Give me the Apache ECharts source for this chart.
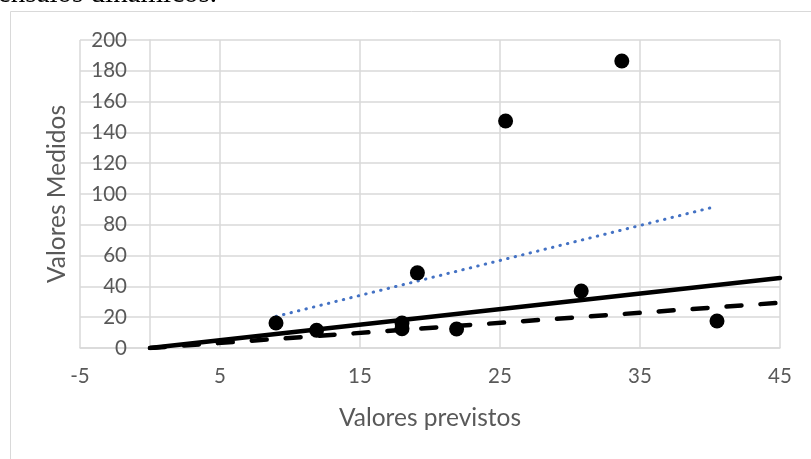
<!DOCTYPE html>
<html>
<head>
<meta charset="utf-8">
<script src="https://cdn.jsdelivr.net/npm/echarts@6/dist/echarts.min.js"></script>
<style>
html,body{margin:0;padding:0;background:#fff;}
#c{width:811px;height:459px;}
</style>
</head>
<body>
<div id="c"></div>
<script>
// Data
var predicted = [9.0, 11.9, 18.0, 18.0, 19.1, 21.9, 25.4, 30.8, 33.7, 40.5];
var measured  = [16.2, 11.5, 16.2, 12.5, 48.8, 12.3, 147.4, 37.0, 186.4, 17.5];
var lineSolidX = [0, 45];
var lineSolidY = [0, 45.4];
var lineDashX = [0, 45];
var lineDashY = [0, 29.4];
var lineDotX = [9.0, 40.3];
var lineDotY = [20.5, 91.6];
var xTicks = {min: -5, max: 45, interval: 10};
var yTicks = {min: 0, max: 200, interval: 20};
var xTitle = 'Valores previstos';
var yTitle = 'Valores Medidos';
var caption = 'ensaios dinâmicos.';

function zip(a, b) { return a.map(function (v, i) { return [v, b[i]]; }); }

var font = 'Lato';
var chart = echarts.init(document.getElementById('c'), null, {renderer: 'canvas'});
chart.setOption({
  animation: false,
  backgroundColor: '#ffffff',
  graphic: [
    {type: 'rect', shape: {x: 10.5, y: 11.5, width: 820, height: 470}, style: {fill: 'none', stroke: '#d9d9d9', lineWidth: 1}, z: -10},
    {type: 'text', x: -2, y: 9, style: {text: caption, font: '29px "Liberation Serif"', fill: '#000', verticalAlign: 'bottom', align: 'left'}}
  ],
  grid: {left: 80, right: 31, top: 40, bottom: 111, containLabel: false, outerBoundsMode: 'none'},
  xAxis: {
    type: 'value', min: xTicks.min, max: xTicks.max, interval: xTicks.interval,
    name: xTitle, nameLocation: 'middle', nameGap: 58,
    nameTextStyle: {color: '#595959', fontSize: 24.5, fontFamily: font},
    axisLine: {show: true, onZero: true, lineStyle: {color: '#d9d9d9', width: 1.5}},
    axisTick: {show: false},
    axisLabel: {color: '#595959', fontSize: 20.5, fontFamily: font, margin: 18},
    splitLine: {show: true, lineStyle: {color: '#d9d9d9', width: 1.5}}
  },
  yAxis: {
    type: 'value', min: yTicks.min, max: yTicks.max, interval: yTicks.interval,
    name: yTitle, nameLocation: 'middle', nameGap: 10, nameRotate: 90, nameMoveOverlap: false,
    nameTextStyle: {color: '#595959', fontSize: 24.5, fontFamily: font},
    axisLine: {show: true, onZero: true, lineStyle: {color: '#d9d9d9', width: 1.5}},
    axisTick: {show: false},
    axisLabel: {color: '#595959', fontSize: 20.5, fontFamily: font, margin: -47},
    splitLine: {show: true, lineStyle: {color: '#d9d9d9', width: 1.5}}
  },
  series: [
    {type: 'line', data: zip(lineDotX, lineDotY), symbol: 'none', z: 3,
     lineStyle: {color: '#4472c4', width: 3, type: [0.5, 7.2], cap: 'round'}},
    {type: 'line', data: zip(lineDashX, lineDashY), symbol: 'none', z: 3,
     lineStyle: {color: '#000', width: 4.5, type: [15, 19], cap: 'round'}},
    {type: 'line', data: zip(lineSolidX, lineSolidY), symbol: 'none', z: 3,
     lineStyle: {color: '#000', width: 4.5, cap: 'round'}},
    {type: 'scatter', data: zip(predicted, measured), symbol: 'circle', symbolSize: 15, z: 4,
     itemStyle: {color: '#000', opacity: 1}}
  ]
});
</script>
</body>
</html>
